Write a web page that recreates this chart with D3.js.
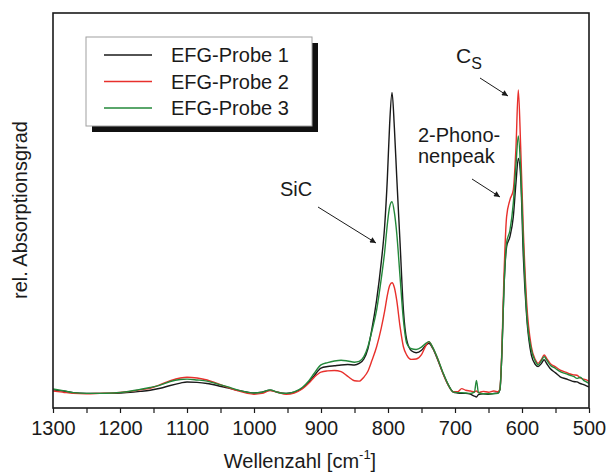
<!DOCTYPE html>
<html>
<head>
<meta charset="utf-8">
<script src="https://cdn.jsdelivr.net/npm/d3@7"></script>
<style>
  html, body { margin: 0; padding: 0; background: #fff; }
  svg { display: block; }
  text { font-family: "Liberation Sans", Arial, Helvetica, sans-serif; fill: #1a1a1a; }
</style>
</head>
<body>
<script>
// ---- data ----
const wavenumbers = [1300,1285,1270,1250,1230,1210,1190,1170,1155,1140,1125,1110,1100,1085,1070,1055,1040,1025,1010,1000,
  988,976,965,952,940,928,918,910,900,890,880,870,860,850,843,836,830,824,817,810,805,801,797.5,794,790.5,787,782,777,772,
  765,758,750,744,739,733,726,718,710,703,696,690,684,677,671,668,665,658,650,642,636,633,630,627,623,618,613,609,605.5,
  602,598,593,586,580,576,571,567,563,558,550,543,535,528,523,518,513,508,504,500];

const probe1 = [4.6,4.3,3.9,3.7,3.7,3.7,3.9,4.2,4.5,5.0,5.7,6.3,6.6,6.5,6.2,5.7,5.1,4.5,4.0,3.8,
  4.0,4.5,4.0,3.7,4.0,5.0,6.6,8.2,10.1,10.5,10.7,10.9,11.0,10.9,11.3,12.4,15.0,20.0,27.3,37.0,46.0,58.0,72.0,79.9,71.0,58.6,41.8,24.8,17.2,
  14.5,14.0,14.6,15.8,16.4,15.0,12.3,8.8,5.8,4.1,3.8,3.7,3.7,3.5,3.0,2.8,3.4,3.6,3.5,3.7,3.8,4.6,14.0,30.0,40.8,43.4,48.4,57.0,63.2,
  58.6,38.3,23.1,13.4,11.0,10.5,11.3,12.2,11.2,10.0,8.9,7.9,7.4,7.0,6.7,6.6,6.2,5.9,5.6,5.3];

const probe2 = [4.3,4.0,3.7,3.6,3.7,3.8,4.1,4.6,5.0,5.9,6.9,7.6,7.8,7.6,7.1,6.2,5.3,4.4,3.7,3.5,
  3.7,4.4,4.0,3.5,3.8,4.8,6.3,7.8,9.1,9.4,9.5,9.2,8.0,6.9,6.8,7.8,9.3,12.0,15.5,20.3,24.5,28.5,31.0,31.7,30.5,27.3,20.6,15.5,13.4,
  12.3,12.4,13.5,15.6,16.8,15.2,12.5,8.8,5.8,4.1,4.1,4.9,4.5,4.3,4.1,4.3,3.9,4.2,4.0,4.3,4.1,4.8,15.0,33.0,48.4,52.7,55.2,66.0,80.5,
  66.2,45.0,26.6,15.5,12.2,11.3,12.3,13.4,12.5,11.3,10.4,9.6,9.1,8.6,8.4,8.3,7.6,7.3,7.1,6.7];

const probe3 = [4.8,4.4,3.9,3.7,3.7,3.8,4.1,4.7,5.2,5.8,6.7,7.2,7.3,7.1,6.8,6.1,5.4,4.6,4.0,3.8,
  4.0,4.6,4.0,3.7,4.1,5.2,6.9,8.8,10.9,11.5,11.9,12.1,11.9,11.6,11.8,13.0,15.5,19.5,24.8,32.8,39.5,46.5,51.0,52.2,49.5,44.3,33.2,22.3,16.4,
  15.0,14.8,15.4,16.3,16.8,15.3,12.6,9.0,5.9,4.1,3.9,3.9,3.8,3.7,4.0,7.0,3.9,3.6,3.6,3.6,3.7,4.6,14.0,30.0,41.8,45.0,51.8,61.5,68.9,
  60.3,41.8,24.0,14.7,11.8,10.9,12.0,13.0,12.1,10.9,10.0,9.2,8.7,8.3,8.0,7.5,7.8,7.0,6.6,6.2];

const seriesNames = ["EFG-Probe 1", "EFG-Probe 2", "EFG-Probe 3"];
const seriesColors = ["#1a1a1a", "#e8302c", "#23883a"];
const xTickValues = [1300,1250,1200,1150,1100,1050,1000,950,900,850,800,750,700,650,600,550,500];
const xTickLabels = [1300,1200,1100,1000,900,800,700,600,500];

// ---- layout ----
const W = 607, H = 472;
const plot = {left: 53, right: 589, top: 13, bottom: 408};

const svg = d3.select("body").append("svg").attr("width", W).attr("height", H);

const x = d3.scaleLinear().domain([1300, 500]).range([plot.left, plot.right]);
const y = d3.scaleLinear().domain([0, 100]).range([plot.bottom, plot.top]);

// defs: arrow marker
svg.append("defs").append("marker")
  .attr("id", "arr").attr("viewBox", "0 0 10 10").attr("refX", 10).attr("refY", 5)
  .attr("markerWidth", 7).attr("markerHeight", 6).attr("markerUnits", "userSpaceOnUse")
  .attr("orient", "auto")
  .append("path").attr("d", "M0,0 L10,5 L0,10 Z").attr("fill", "#1a1a1a");

// lines
const seriesData = [probe1, probe2, probe3];
const line = d3.line().x(d => x(d[0])).y(d => y(d[1])).curve(d3.curveMonotoneX);
const clip = svg.append("clipPath").attr("id", "clip").append("rect")
  .attr("x", plot.left).attr("y", plot.top).attr("width", plot.right - plot.left).attr("height", plot.bottom - plot.top);

const gLines = svg.append("g").attr("clip-path", "url(#clip)");
seriesData.forEach((vals, i) => {
  gLines.append("path")
    .datum(wavenumbers.map((w, j) => [w, vals[j]]))
    .attr("fill", "none")
    .attr("stroke", seriesColors[i])
    .attr("stroke-width", 1.4)
    .attr("stroke-linejoin", "round")
    .attr("d", line);
});

// frame
svg.append("rect")
  .attr("x", plot.left).attr("y", plot.top)
  .attr("width", plot.right - plot.left).attr("height", plot.bottom - plot.top)
  .attr("fill", "none").attr("stroke", "#1a1a1a").attr("stroke-width", 1.6);

// x axis
const xAxis = d3.axisBottom(x).tickValues(xTickValues).tickSize(5).tickPadding(8)
  .tickFormat(d => xTickLabels.includes(d) ? d : "");
const gx = svg.append("g").attr("transform", `translate(0,${plot.bottom})`).call(xAxis);
gx.select(".domain").remove();
gx.selectAll(".tick line").attr("stroke", "#1a1a1a").attr("stroke-width", 1.2);
gx.selectAll(".tick text").attr("font-size", 20).attr("font-family", "Liberation Sans, Arial, sans-serif").attr("fill", "#1a1a1a");

// axis titles
const xt = svg.append("text").attr("x", 300).attr("y", 468).attr("text-anchor", "middle").attr("font-size", 20);
xt.append("tspan").text("Wellenzahl [cm");
xt.append("tspan").attr("font-size", 13).attr("dy", -9).text("-1");
xt.append("tspan").attr("dy", 9).text("]");

svg.append("text")
  .attr("transform", `translate(27,210) rotate(-90)`)
  .attr("text-anchor", "middle").attr("font-size", 20)
  .text("rel. Absorptionsgrad");

// legend
const lg = {x: 86, y: 37, w: 226, h: 89};
svg.append("rect").attr("x", lg.x + 6).attr("y", lg.y + 6).attr("width", lg.w).attr("height", lg.h).attr("fill", "#111");
svg.append("rect").attr("x", lg.x).attr("y", lg.y).attr("width", lg.w).attr("height", lg.h)
  .attr("fill", "#fff").attr("stroke", "#a0a0a0").attr("stroke-width", 1);
const legendRowsY = [55, 81.5, 108];
seriesNames.forEach((name, i) => {
  svg.append("line").attr("x1", 104).attr("x2", 152).attr("y1", legendRowsY[i]).attr("y2", legendRowsY[i])
    .attr("stroke", seriesColors[i]).attr("stroke-width", 1.5);
  svg.append("text").attr("x", 171).attr("y", legendRowsY[i] + 7).attr("font-size", 20).text(name);
});

// annotations
svg.append("text").attr("x", 280).attr("y", 196).attr("font-size", 20).text("SiC");
svg.append("line").attr("x1", 318).attr("y1", 207).attr("x2", 376).attr("y2", 243)
  .attr("stroke", "#1a1a1a").attr("stroke-width", 1).attr("marker-end", "url(#arr)");

svg.append("text").attr("x", 418).attr("y", 142).attr("font-size", 20).text("2-Phono-");
svg.append("text").attr("x", 418).attr("y", 163).attr("font-size", 20).text("nenpeak");
svg.append("line").attr("x1", 472).attr("y1", 179).attr("x2", 500).attr("y2", 197)
  .attr("stroke", "#1a1a1a").attr("stroke-width", 1).attr("marker-end", "url(#arr)");

const cs = svg.append("text").attr("x", 456).attr("y", 63).attr("font-size", 21);
cs.append("tspan").text("C");
cs.append("tspan").attr("font-size", 16).attr("dy", 6).text("S");
svg.append("line").attr("x1", 480).attr("y1", 78).attr("x2", 508).attr("y2", 96)
  .attr("stroke", "#1a1a1a").attr("stroke-width", 1).attr("marker-end", "url(#arr)");
</script>
</body>
</html>
